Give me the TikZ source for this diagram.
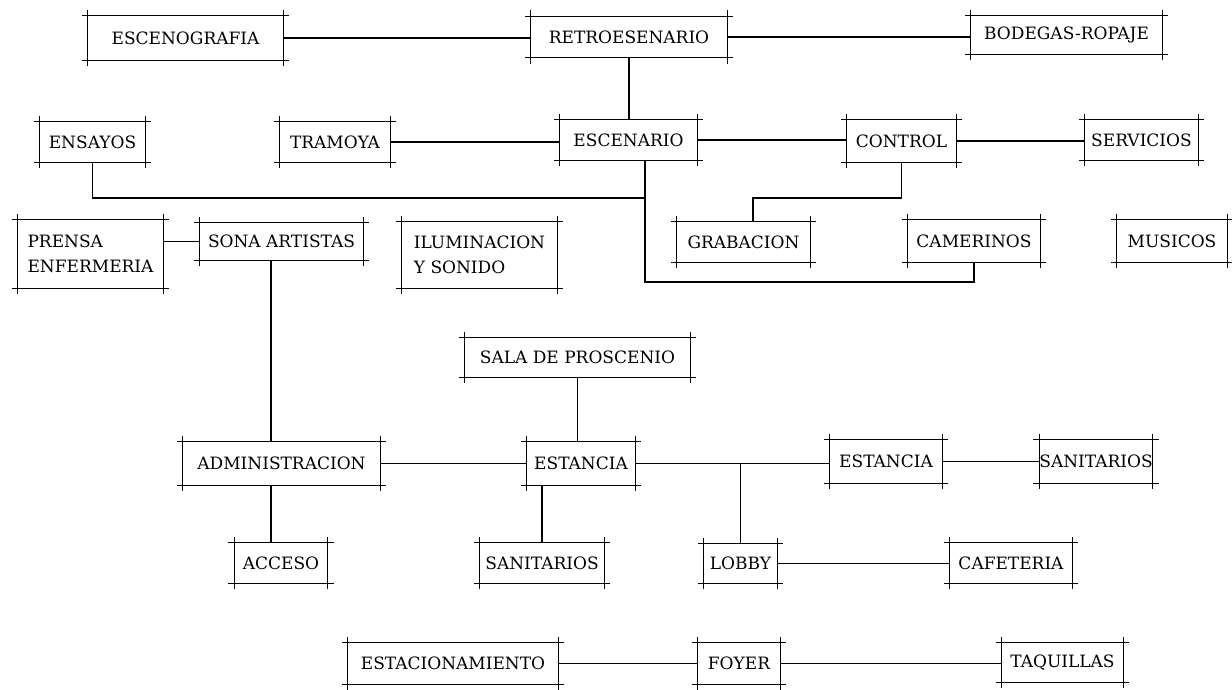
\documentclass[tikz,border=0pt]{standalone}
\usepackage{fontspec}
\newfontfamily\rotulo{DejaVu Serif}
\newcommand{\letrero}{\rotulo\fontsize{17}{25}\selectfont}

\begin{document}
\begin{tikzpicture}[x=1pt, y=-1pt,
    local/.style={inner sep=0pt, font=\letrero, align=left},
    liga/.style={line width=1.4pt},
    marco/.style={line width=1pt}]
  \useasboundingbox (0,0) rectangle (1232,689);

  % escena
  \node[local, minimum width=195pt, minimum height=44pt] (escenografia) at (185.5,38) {ESCENOGRAFIA};
  \node[local, minimum width=196pt, minimum height=41pt] (retro) at (629,37) {RETROESENARIO};
  \node[local, minimum width=191pt, minimum height=38pt] (bodegas) at (1066.5,35) {BODEGAS-ROPAJE};
  \node[local, minimum width=105pt, minimum height=40pt] (ensayos) at (92.5,142) {ENSAYOS};
  \node[local, minimum width=110pt, minimum height=40pt] (tramoya) at (335,142) {TRAMOYA};
  \node[local, minimum width=137pt, minimum height=40pt] (escenario) at (628.5,140) {ESCENARIO};
  \node[local, minimum width=109pt, minimum height=42pt] (control) at (901.5,141) {CONTROL};
  \node[local, minimum width=113pt, minimum height=40pt] (servicios) at (1141.5,140) {SERVICIOS};
  \node[local, minimum width=145pt, minimum height=68pt] (prensa) at (90.5,254) {PRENSA\\ENFERMERIA};
  \node[local, minimum width=163pt, minimum height=37pt] (sona) at (281.5,241.5) {SONA ARTISTAS};
  \node[local, minimum width=155pt, minimum height=66pt] (iluminacion) at (479.5,255) {ILUMINACION\\Y SONIDO};
  \node[local, minimum width=133pt, minimum height=40pt] (grabacion) at (743.5,242) {GRABACION};
  \node[local, minimum width=132pt, minimum height=42pt] (camerinos) at (974,241) {CAMERINOS};
  \node[local, minimum width=110pt, minimum height=42pt] (musicos) at (1172,241) {MUSICOS};

  % publico
  \node[local, minimum width=225pt, minimum height=39pt] (proscenio) at (577.5,357.5) {SALA DE PROSCENIO};
  \node[local, minimum width=197pt, minimum height=43pt] (admin) at (281.5,463.5) {ADMINISTRACION};
  \node[local, minimum width=108pt, minimum height=43pt] (estancia) at (581,463.5) {ESTANCIA};
  \node[local, minimum width=112pt, minimum height=43pt] (estanciab) at (886,461.5) {ESTANCIA};
  \node[local, minimum width=112pt, minimum height=43pt] (sanitariosb) at (1096,461.5) {SANITARIOS};
  \node[local, minimum width=93pt, minimum height=40pt] (acceso) at (281,563) {ACCESO};
  \node[local, minimum width=124pt, minimum height=40pt] (sanitarios) at (542,563) {SANITARIOS};
  \node[local, minimum width=73pt, minimum height=39pt] (lobby) at (740.5,563.5) {LOBBY};
  \node[local, minimum width=122pt, minimum height=40pt] (cafeteria) at (1011,563) {CAFETERIA};
  \node[local, minimum width=210pt, minimum height=41pt] (estacionamiento) at (453,663.5) {ESTACIONAMIENTO};
  \node[local, minimum width=82pt, minimum height=41pt] (foyer) at (739,663.5) {FOYER};
  \node[local, minimum width=121pt, minimum height=39pt] (taquillas) at (1062.5,662.5) {TAQUILLAS};

  % marcos con esquinas cruzadas
  \foreach \s in {escenografia,retro,bodegas,ensayos,tramoya,escenario,control,servicios,
                  prensa,sona,iluminacion,grabacion,camerinos,musicos,proscenio,admin,
                  estancia,estanciab,sanitariosb,acceso,sanitarios,lobby,cafeteria,
                  estacionamiento,foyer,taquillas} {
    \draw[marco] ([xshift=-6pt]\s.north west) -- ([xshift=6pt]\s.north east)
                 ([xshift=-6pt]\s.south west) -- ([xshift=6pt]\s.south east)
                 ([yshift=6pt]\s.north west) -- ([yshift=-6pt]\s.south west)
                 ([yshift=6pt]\s.north east) -- ([yshift=-6pt]\s.south east);
  }

  \coordinate (bus) at (645,198);
  \coordinate (codo) at (645,282);
  \coordinate (rama) at (753,198);
  \coordinate (eje) at (271,0);

  \draw[liga] (escenografia.east) -- (escenografia.east -| retro.west);
  \draw[liga] (retro.east) -- (retro.east -| bodegas.west);
  \draw[liga] (retro.south) -- (retro.south |- escenario.north);
  \draw[liga] (tramoya.east) -- (tramoya.east -| escenario.west);
  \draw[liga] (escenario.east) -- (escenario.east -| control.west);
  \draw[liga] (control.east) -- (control.east -| servicios.west);
  \draw[liga] (ensayos.south) |- (bus);
  \draw[liga] (escenario.south -| bus) -- (codo) -| (camerinos.south);
  \draw[liga] (control.south) |- (rama) -- (rama |- grabacion.north);
  \draw[liga] (sona.west -| prensa.east) -- (sona.west);
  \draw[liga] (sona.south -| eje) -- (admin.north -| eje);
  \draw[liga] (proscenio.south) -- (proscenio.south |- estancia.north);
  \draw[liga] (admin.east) -- (admin.east -| estancia.west);
  \draw[liga] (estancia.east) -- (estancia.east -| estanciab.west);
  \draw[liga] (lobby.north |- estancia.east) -- (lobby.north);
  \draw[liga] (estanciab.east) -- (estanciab.east -| sanitariosb.west);
  \draw[liga] (admin.south -| eje) -- (acceso.north -| eje);
  \draw[liga] (sanitarios.north) -- (sanitarios.north |- estancia.south);
  \draw[liga] (lobby.east) -- (lobby.east -| cafeteria.west);
  \draw[liga] (estacionamiento.east) -- (estacionamiento.east -| foyer.west);
  \draw[liga] (foyer.east) -- (foyer.east -| taquillas.west);
\end{tikzpicture}
\end{document}
